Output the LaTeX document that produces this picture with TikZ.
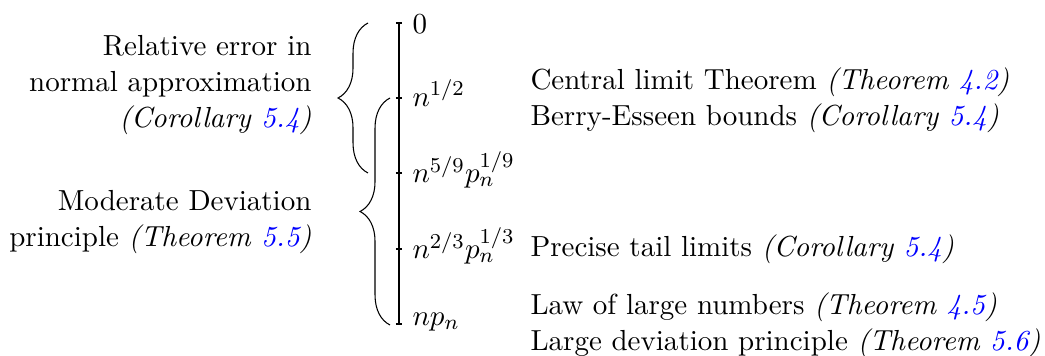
\documentclass[tikz,border=0pt]{standalone}
\usetikzlibrary{decorations.pathreplacing}
\definecolor{refblue}{rgb}{0,0,1}
\newcommand{\myref}[1]{\textcolor{refblue}{#1}}
\begin{document}
\begin{tikzpicture}[x=0.3774pt,y=-0.3774pt,
  every node/.style={font=\fontsize{10.95}{13.6}\selectfont},
  brc/.style={decorate,decoration={brace,amplitude=11.3pt}},
  ticklbl/.style={anchor=west,inner sep=0pt},
  rtxt/.style={anchor=west,align=left,inner sep=0pt},
  ltxt/.style={anchor=east,align=right,inner sep=0pt}]
\useasboundingbox (0,0) rectangle (1045,356);
\coordinate (t0) at (399,23);
\coordinate (t1) at (399,98);
\coordinate (t2) at (399,173);
\coordinate (t3) at (399,249);
\coordinate (t4) at (399,324);
\draw (t0) -- (t4);
\foreach \i in {0,...,4} \draw ([xshift=-1.2pt]t\i) -- ([xshift=1.1pt]t\i);
\node[ticklbl] (l0) at (412,24) {$0$};
\node[ticklbl] (l1) at (412,93) {$n^{1/2}$};
\node[ticklbl] (l2) at (412,170) {$n^{5/9}p_n^{1/9}$};
\node[ticklbl] (l3) at (412,246) {$n^{2/3}p_n^{1/3}$};
\node[ticklbl] (l4) at (412,322) {$np_n$};
% braces
\coordinate (b1s) at (368,173);
\coordinate (b1e) at (368,23);
\coordinate (b2s) at (390,325);
\coordinate (b2e) at (390,98);
\draw[brc] (b1s) -- (b1e);
\draw[brc] (b2s) -- (b2e);
% left texts
\node[ltxt] (r1) at (312,85) {Relative error in\\normal approximation\\\textit{(Corollary \myref{5.4})}};
\node[ltxt] (r2) at (312,222) {Moderate Deviation\\principle \textit{(Theorem \myref{5.5})}};
% right texts
\node[rtxt] (c1) at (530,100) {Central limit Theorem \textit{(Theorem \myref{4.2})}\\Berry-Esseen bounds \textit{(Corollary \myref{5.4})}};
\node[rtxt] (c2) at (530,249) {Precise tail limits \textit{(Corollary \myref{5.4})}};
\node[rtxt] (c3) at (530,325) {Law of large numbers \textit{(Theorem \myref{4.5})}\\Large deviation principle \textit{(Theorem \myref{5.6})}};
\end{tikzpicture}
\end{document}
